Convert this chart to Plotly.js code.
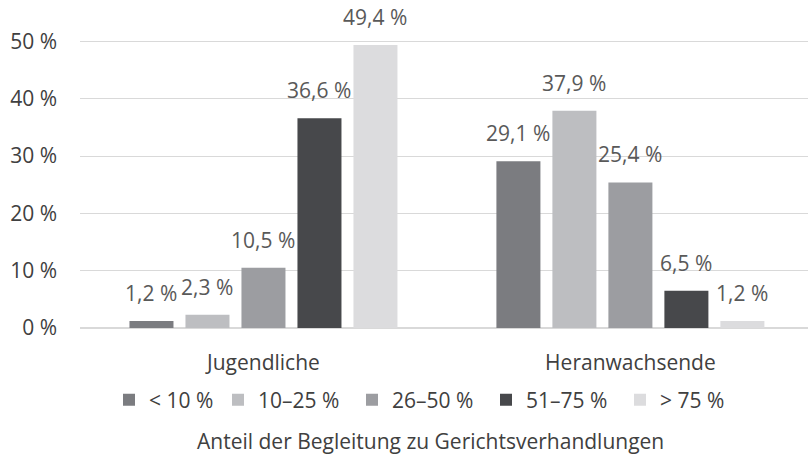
<!DOCTYPE html>
<html>
<head>
<meta charset="utf-8">
<script src="https://cdn.plot.ly/plotly-3.0.1.min.js"></script>
<style>
  html, body { margin: 0; padding: 0; background: #fff; }
  #chart { width: 808px; height: 455px; }
</style>
</head>
<body>
<div id="chart"></div>
<script>
// --- Data ---
const groups = ["Jugendliche", "Heranwachsende"];
const seriesNames = ["< 10 %", "10–25 %", "26–50 %", "51–75 %", "> 75 %"];
const lt10 = [1.2, 29.1];
const from10to25 = [2.3, 37.9];
const from26to50 = [10.5, 25.4];
const from51to75 = [36.6, 6.5];
const gt75 = [49.4, 1.2];
const yTicks = [0, 10, 20, 30, 40, 50];
const yTickText = ["0 %", "10 %", "20 %", "30 %", "40 %", "50 %"];
const xTitle = "Anteil der Begleitung zu Gerichtsverhandlungen";

const seriesValues = [lt10, from10to25, from26to50, from51to75, gt75];
const colors = ["#7b7c80", "#bdbec1", "#9c9da1", "#47484b", "#dcdcde"];

const font = "'Open Sans', 'Noto Sans', sans-serif";
const fs = 21;

// --- Geometry helpers (for label offsets) ---
const W = 808, H = 455;
const margin = { l: 80, r: 0, t: 30, b: 127 };
const plotW = W - margin.l - margin.r;
const plotH = H - margin.t - margin.b;
const xRange = [-0.5, 1.484];
const bargap = 0.237;
const pxPerUnit = plotW / (xRange[1] - xRange[0]);
const slotPx = ((1 - bargap) / seriesNames.length) * pxPerUnit;

// --- Traces ---
const traces = seriesNames.map((name, i) => ({
  type: "bar",
  name: name,
  x: groups,
  y: seriesValues[i],
  marker: { color: colors[i] },
  legend: i === 0 ? "legend2" : "legend",
  hoverinfo: "skip",
}));

// --- Value labels ---
const annotations = [];
seriesNames.forEach((name, i) => {
  groups.forEach((g, j) => {
    annotations.push({
      x: g,
      y: seriesValues[i][j],
      xref: "x",
      yref: "y",
      text: seriesValues[i][j].toFixed(1).replace(".", ",") + " %",
      showarrow: false,
      xanchor: "center",
      yanchor: "bottom",
      xshift: (i - (seriesNames.length - 1) / 2) * slotPx,
      yshift: 12,
      font: { family: font, size: fs, color: "#595959" },
    });
  });
});

// x-axis title below the legend
annotations.push({
  text: xTitle,
  xref: "paper",
  yref: "paper",
  x: (430 - margin.l) / plotW,
  y: -(441 - (H - margin.b)) / plotH,
  xanchor: "center",
  yanchor: "middle",
  showarrow: false,
  font: { family: font, size: fs, color: "#404040" },
});

const legendStyle = {
  orientation: "h",
  xref: "container",
  yref: "container",
  xanchor: "left",
  yanchor: "middle",
  y: 1 - 400 / H,
  entrywidth: 89,
  bgcolor: "rgba(0,0,0,0)",
  font: { family: font, size: fs, color: "#404040" },
  itemclick: false,
  traceorder: "normal",
};

// --- Layout ---
const layout = {
  width: W,
  height: H,
  margin: margin,
  paper_bgcolor: "#fff",
  plot_bgcolor: "#fff",
  separators: ",.",
  font: { family: font, size: fs, color: "#404040" },
  barmode: "group",
  bargap: bargap,
  bargroupgap: 0.214,
  showlegend: true,
  legend: { ...legendStyle, x: 218 / W },
  legend2: { ...legendStyle, x: 109 / W, entrywidth: 60 },
  xaxis: {
    type: "category",
    range: xRange,
    showgrid: false,
    showline: false,
    zeroline: false,
    ticks: "",
    ticklabelstandoff: 20,
    tickfont: { family: font, size: fs, color: "#404040" },
  },
  yaxis: {
    range: [0, 52],
    tickvals: yTicks,
    ticktext: yTickText,
    showgrid: true,
    gridcolor: "#d9d9d9",
    gridwidth: 1,
    zeroline: true,
    zerolinecolor: "#d9d9d9",
    zerolinewidth: 1.5,
    showline: false,
    ticks: "",
    ticklabelstandoff: 22,
    tickfont: { family: font, size: fs, color: "#404040" },
  },
  annotations: annotations,
};

Plotly.newPlot("chart", traces, layout, { staticPlot: true, displayModeBar: false });
</script>
</body>
</html>
